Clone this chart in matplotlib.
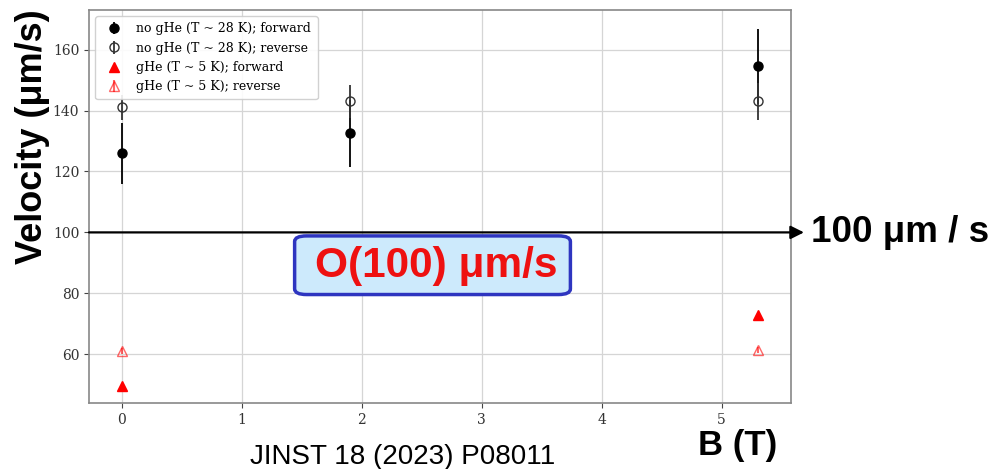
import numpy as np
import matplotlib.pyplot as plt
from matplotlib.patches import FancyBboxPatch

# magnetic field values (T)
b_nogHe = [0.0, 1.9, 5.3]
b_gHe = [0.0, 5.3]

# no gHe (T ~ 28 K)
v_fwd = [126, 132.5, 154.5]
e_fwd = [10, 11, 12.3]
v_rev = [141, 143, 143]
e_rev = [4, 5.5, 6]

# gHe (T ~ 5 K)
g_fwd = [49.5, 73]
g_rev = [61, 61.5]
ge_rev = [1.0, 1.0]

fig = plt.figure(figsize=(9.92, 4.69), dpi=100)
ax = fig.add_axes([0.0897, 0.1407, 0.708, 0.838])

h1 = ax.errorbar(b_nogHe, v_fwd, yerr=e_fwd, fmt='o', color='black', ms=6.5,
                 elinewidth=1.3, label='no gHe (T ~ 28 K); forward', zorder=3)
h2 = ax.errorbar(b_nogHe, v_rev, yerr=e_rev, fmt='o', color='#333333', mfc='none',
                 ms=6.5, elinewidth=1.3, label='no gHe (T ~ 28 K); reverse', zorder=3)
h3, = ax.plot(b_gHe, g_fwd, '^', color='red', ms=6.5, ls='none',
              label='gHe (T ~ 5 K); forward', zorder=3)
h4 = ax.errorbar(b_gHe, g_rev, yerr=ge_rev, fmt='^', color='red', mfc='none',
                 ms=6.5, alpha=0.6, label='gHe (T ~ 5 K); reverse', zorder=3)

ax.set_xlim(-0.275, 5.58)
ax.set_ylim(44, 173)
ax.set_yticks([60, 80, 100, 120, 140, 160])
ax.set_xticks([0, 1, 2, 3, 4, 5])
ax.grid(True, color='#d5d5d5', lw=0.9)
ax.set_axisbelow(True)
for s in ax.spines.values():
    s.set_color('#888888')
    s.set_linewidth(1.2)
ax.tick_params(colors='#444444', labelsize=10)
for lab in ax.get_xticklabels() + ax.get_yticklabels():
    lab.set_family('DejaVu Serif')
    lab.set_color('#333333')

leg = ax.legend(handles=[h1, h2, h3, h4], loc='upper left',
                prop={'family': 'DejaVu Serif', 'size': 9},
                framealpha=0.9, edgecolor='#cccccc', borderpad=0.5,
                handletextpad=0.8)

# horizontal arrow at 100 um/s
ax.annotate('', xy=(1.018, 100), xycoords=('axes fraction', 'data'),
            xytext=(0.0, 100), textcoords=('axes fraction', 'data'),
            arrowprops=dict(arrowstyle='-|>', color='black', lw=1.6,
                            mutation_scale=20, shrinkA=0, shrinkB=0),
            annotation_clip=False, zorder=4)
fig.text(0.818, 0.505, '100 \u03bcm / s', fontsize=26.5, fontweight='bold',
         family='Liberation Sans', va='center', ha='left')

# O(100) box
box = FancyBboxPatch((0.297, 0.372), 0.278, 0.125, transform=fig.transFigure,
                     boxstyle='round,pad=0,rounding_size=0.012',
                     fc='#cdeafc', ec='#2e35c0', lw=2.5, zorder=5)
fig.patches.append(box)
fig.text(0.44, 0.432, 'O(100) \u03bcm/s', fontsize=30.5, fontweight='bold',
         color='#ee1111', family='Liberation Sans', ha='center', va='center',
         zorder=6)

fig.text(0.033, 0.708, 'Velocity (\u03bcm/s)', rotation=90, fontsize=26,
         fontweight='bold', family='Liberation Sans', ha='center', va='center')
fig.text(0.744, 0.05, 'B (T)', fontsize=25, fontweight='bold',
         family='Liberation Sans', ha='center', va='center')
fig.text(0.406, 0.025, 'JINST 18 (2023) P08011', fontsize=20,
         family='Liberation Sans', ha='center', va='center')

plt.savefig('out.png', dpi=100)
